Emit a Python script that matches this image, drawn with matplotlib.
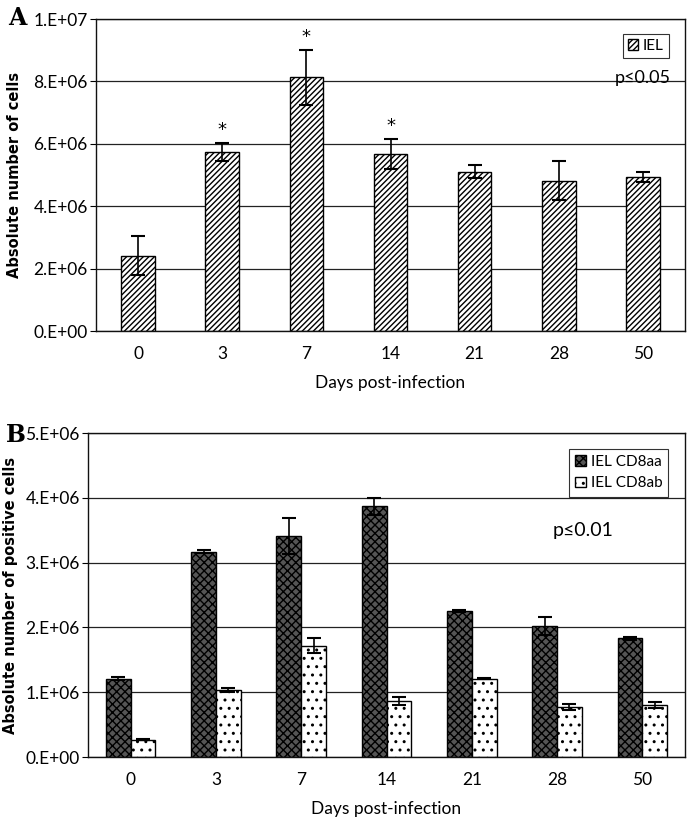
import matplotlib
matplotlib.use("Agg")
import matplotlib.pyplot as plt
import numpy as np
from matplotlib.patches import Patch

plt.rcParams['font.family'] = ['Lato', 'DejaVu Sans']
plt.rcParams['hatch.linewidth'] = 1.0

days = ['0', '3', '7', '14', '21', '28', '50']

# Panel A
iel = [2.41e6, 5.75e6, 8.13e6, 5.68e6, 5.11e6, 4.82e6, 4.94e6]
iel_err = [0.62e6, 0.29e6, 0.89e6, 0.48e6, 0.22e6, 0.62e6, 0.16e6]
iel_sig = [False, True, True, True, False, False, False]
yticks_a = [0, 2e6, 4e6, 6e6, 8e6, 1e7]
ylabels_a = ['0.E+00', '2.E+06', '4.E+06', '6.E+06', '8.E+06', '1.E+07']

# Panel B
cd8aa = [1.21e6, 3.17e6, 3.41e6, 3.87e6, 2.25e6, 2.02e6, 1.83e6]
cd8aa_err = [0.02e6, 0.02e6, 0.28e6, 0.13e6, 0.02e6, 0.14e6, 0.02e6]
cd8ab = [0.27e6, 1.04e6, 1.72e6, 0.87e6, 1.21e6, 0.77e6, 0.80e6]
cd8ab_err = [0.015e6, 0.03e6, 0.11e6, 0.06e6, 0.01e6, 0.05e6, 0.05e6]
yticks_b = [0, 1e6, 2e6, 3e6, 4e6, 5e6]
ylabels_b = ['0.E+00', '1.E+06', '2.E+06', '3.E+06', '4.E+06', '5.E+06']

W, H = 688, 819
fig = plt.figure(figsize=(W / 100, H / 100), dpi=100)

def frac(l, t, r, b):
    return [l / W, 1 - b / H, (r - l) / W, (b - t) / H]

axA = fig.add_axes(frac(96, 19, 685, 331))
axB = fig.add_axes(frac(88, 433, 685, 757))

x = np.arange(len(days))
FS = 12.5

def style(ax, yt, yl, ymax):
    ax.set_xlim(-0.5, len(days) - 0.5)
    ax.set_ylim(0, ymax)
    ax.set_yticks(yt)
    ax.set_yticklabels(yl, fontsize=FS)
    ax.set_xticks(x)
    ax.set_xticklabels(days, fontsize=FS)
    ax.tick_params(axis='x', length=0, pad=11)
    ax.tick_params(axis='y', length=4, direction='out', pad=2)
    ax.yaxis.grid(True, color='#222222', lw=0.9)
    ax.set_axisbelow(True)
    for s in ax.spines.values():
        s.set_linewidth(1.0)
        s.set_color('#111111')
    ax.set_xlabel('Days post-infection', fontsize=FS, labelpad=9)

# ---- Panel A
axA.bar(x, iel, width=0.40, color='white', edgecolor='black', hatch='//////', lw=1.0, zorder=2)
axA.errorbar(x, iel, yerr=iel_err, fmt='none', ecolor='black', elinewidth=1.2,
             capsize=5, capthick=1.5, zorder=3)
for xi, v, e, s in zip(x, iel, iel_err, iel_sig):
    if s:
        axA.text(xi, v + e + 0.12e6, '*', ha='center', va='bottom', fontsize=13,
                 family=['DejaVu Sans'])
style(axA, yticks_a, ylabels_a, 1e7)
axA.set_ylabel('Absolute number of cells', fontsize=10.5, fontweight='bold',
               family=['DejaVu Sans'])
axA.yaxis.set_label_coords(-0.125, 0.5)
legA = axA.legend(handles=[Patch(facecolor='white', edgecolor='black', hatch='//////', label='IEL')],
                  loc='upper right', fontsize=11, frameon=True, fancybox=False,
                  handlelength=0.7, handleheight=0.7, handletextpad=0.3, borderpad=0.3,
                  bbox_to_anchor=(0.985, 0.975))
legA.get_frame().set_edgecolor('black')
legA.get_frame().set_linewidth(0.8)
axA.text(0.975, 0.81, 'p≤0.05', transform=axA.transAxes, ha='right', va='center', fontsize=13)
fig.text(8 / W, 1 - 18 / H, 'A', fontsize=17, fontweight='bold', family='DejaVu Serif', va='center')

# ---- Panel B
bw = 0.29
axB.bar(x - bw / 2, cd8aa, width=bw, color='#555555', edgecolor='black', hatch='xxxx', lw=1.0, zorder=2)
axB.bar(x + bw / 2, cd8ab, width=bw, color='white', edgecolor='black', hatch='..', lw=1.0, zorder=2)
axB.errorbar(x - bw / 2, cd8aa, yerr=cd8aa_err, fmt='none', ecolor='black', elinewidth=1.2,
             capsize=5, capthick=1.5, zorder=3)
axB.errorbar(x + bw / 2, cd8ab, yerr=cd8ab_err, fmt='none', ecolor='black', elinewidth=1.2,
             capsize=5, capthick=1.5, zorder=3)
style(axB, yticks_b, ylabels_b, 5e6)
axB.set_ylabel('Absolute number of positive cells', fontsize=10.5, fontweight='bold',
               family=['DejaVu Sans'])
axB.yaxis.set_label_coords(-0.118, 0.5)
legB = axB.legend(handles=[Patch(facecolor='#555555', edgecolor='black', hatch='xxxx', label='IEL CD8aa'),
                           Patch(facecolor='white', edgecolor='black', hatch='..', label='IEL CD8ab')],
                  loc='upper right', fontsize=11, frameon=True, fancybox=False,
                  handlelength=0.7, handleheight=0.7, handletextpad=0.3, borderpad=0.4,
                  labelspacing=0.5, bbox_to_anchor=(0.985, 0.975))
legB.get_frame().set_edgecolor('black')
legB.get_frame().set_linewidth(0.8)
axB.text(0.83, 0.70, 'p≤0.01', transform=axB.transAxes, ha='center', va='center', fontsize=14)
fig.text(6 / W, 1 - 435 / H, 'B', fontsize=17, fontweight='bold', family='DejaVu Serif', va='center')

fig.savefig('out.png', dpi=100, facecolor='white')
